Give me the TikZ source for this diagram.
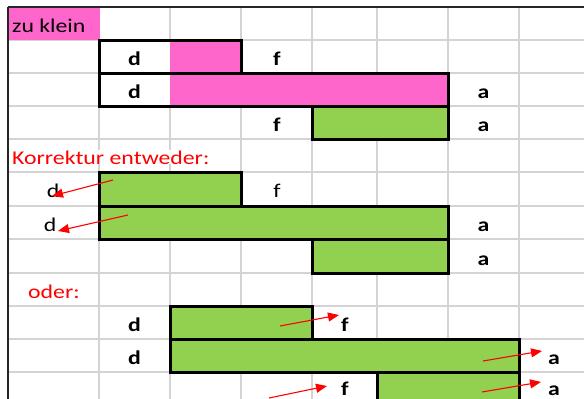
\documentclass[tikz,border=0pt]{standalone}
\usepackage{fontspec}
\setmainfont[FakeStretch=1.22]{Carlito}
\usetikzlibrary{arrows.meta}
\definecolor{gridgray}{HTML}{D4D4D4}
\definecolor{pinkfill}{HTML}{FF66CC}
\definecolor{greenfill}{HTML}{92D050}
\definecolor{redtext}{HTML}{FF0000}
\tikzset{
  gridline/.style={draw=gridgray, line width=1.5pt},
  borderline/.style={draw=black!85, line width=1.6pt},
  barbox/.style={draw=black, line width=3pt, line join=miter},
  pinkbar/.style={barbox, fill=pinkfill},
  greenbar/.style={barbox, fill=greenfill},
  lbl/.style={anchor=base, inner sep=0pt, font=\fontsize{19.5}{22}\selectfont},
  blbl/.style={lbl, font=\fontsize{19.5}{22}\selectfont\bfseries},
  redlbl/.style={anchor=base west, inner sep=0pt, text=redtext, font=\fontsize{19.5}{22}\selectfont},
  redarrow/.style={draw=redtext, line width=1.1pt, -{Triangle[length=11pt,width=9pt]}}
}
\begin{document}
\begin{tikzpicture}[x=1pt,y=-1pt]
\useasboundingbox (0,0) rectangle (584,399);
\fill[white] (0,0) rectangle (584,399);
% grid
\foreach \gx in {99,170,241,312,377,448,519} \draw[gridline] (\gx,7) -- (\gx,399);
\foreach \gy in {40,73,106,139,172,206,239,273,306,339,372} \draw[gridline] (8,\gy) -- (584,\gy);
% pink header cell
\fill[pinkfill] (8,7) rectangle (100,40);
\node[anchor=base west, inner sep=0pt, font=\fontsize{19.5}{22}\selectfont] (zk) at (12,32) {zu klein};
% borders
\draw[borderline] (8,7) -- (584,7);
\draw[borderline] (8,7) -- (8,399);
% "zu klein" bars
\path[pinkbar] (99,40) rectangle (241,73);
\fill[white] (100.5,41.5) rectangle (170,71.5);
\draw[barbox] (99,40) rectangle (241,73);
\path[barbox] (99,73) rectangle (448,106);
\fill[pinkfill] (170,74.5) rectangle (446.5,104.5);
\fill[white] (100.5,74.5) rectangle (170,104.5);
\path[greenbar] (312,106) rectangle (448,139);
\node[blbl] (d1) at (134.5,65) {d};
\node[blbl] (f1) at (277,65) {f};
\node[blbl] (d2) at (134.5,98) {d};
\node[blbl] (a2) at (483.5,98) {a};
\node[blbl] (f3) at (277,131) {f};
\node[blbl] (a3) at (483.5,131) {a};
% Korrektur entweder
\node[redlbl, fill=white] (korr) at (12,164) {Korrektur entweder:};
\path[greenbar] (99,172) rectangle (241,206);
\path[greenbar] (99,206) rectangle (448,239);
\path[greenbar] (312,239) rectangle (448,273);
\node[lbl] (d4) at (53,197) {d};
\node[lbl] (f4) at (277,197) {f};
\node[lbl] (d5) at (50,231) {d};
\node[blbl] (a5) at (483.5,231) {a};
\node[blbl] (a6) at (483.5,265) {a};
\coordinate (r1s) at (113,180); \coordinate (r1e) at (52,196);
\coordinate (r2s) at (128,215); \coordinate (r2e) at (58,231);
\draw[redarrow] (r1s) -- (r1e);
\draw[redarrow] (r2s) -- (r2e);
% oder
\node[redlbl] (oder) at (28,298) {oder:};
\path[greenbar] (170,306) rectangle (312,339);
\path[greenbar] (170,339) rectangle (519,372);
\path[greenbar] (377,372) rectangle (519,410);
\node[blbl] (d7) at (134.5,331) {d};
\node[blbl] (f7) at (345,331) {f};
\node[blbl] (d8) at (134.5,364) {d};
\node[blbl] (a8) at (554,364) {a};
\node[blbl] (f9) at (345,395) {f};
\node[blbl] (a9) at (554,395) {a};
\coordinate (r3s) at (280,326); \coordinate (r3e) at (339,315);
\coordinate (r4s) at (483,361); \coordinate (r4e) at (542,351);
\coordinate (r5s) at (269,398); \coordinate (r5e) at (327,386);
\coordinate (r6s) at (482,392); \coordinate (r6e) at (541,382);
\draw[redarrow] (r3s) -- (r3e);
\draw[redarrow] (r4s) -- (r4e);
\draw[redarrow] (r5s) -- (r5e);
\draw[redarrow] (r6s) -- (r6e);
\end{tikzpicture}
\end{document}
